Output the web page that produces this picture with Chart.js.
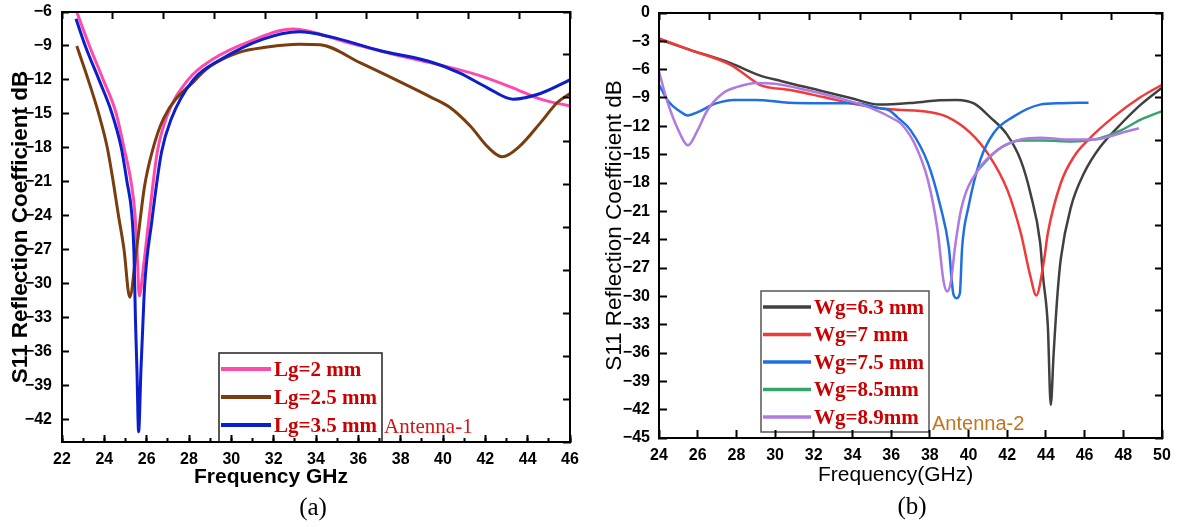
<!DOCTYPE html>
<html>
<head>
<meta charset="utf-8">
<title>S11 reflection coefficient</title>
<script src="https://cdn.jsdelivr.net/npm/chart.js@4.4.1/dist/chart.umd.min.js"></script>
<style>
  html, body { margin: 0; padding: 0; background: #fff; }
  #wrap { position: relative; width: 1179px; height: 527px; overflow: hidden; }
  canvas { position: absolute; top: 0; }
  #chartA { left: 0; }
  #chartB { left: 590px; }
</style>
</head>
<body>
<div id="wrap">
  <canvas id="chartA" width="590" height="527"></canvas>
  <canvas id="chartB" width="589" height="527"></canvas>
</div>
<script>
// ---- Antenna-1: ground length sweep (GHz / dB) ----
const labelsA = ['Lg=2 mm', 'Lg=2.5 mm', 'Lg=3.5 mm'];

const freqLg2 = [22.7, 23.3, 23.95, 24.55, 24.93, 25.26, 25.45, 25.55, 25.65, 25.85, 26.1, 26.5, 26.96, 27.95, 29.1, 31.0, 32.9, 35.5, 37.8, 39.9, 41.7, 43.3, 44.6, 46];
const s11Lg2 = [-6.0, -9.0, -12.0, -14.9, -18.0, -21.0, -23.9, -27.3, -31.1, -28.5, -24.4, -18.4, -15.2, -12.0, -10.2, -8.5, -7.5, -8.7, -9.8, -10.7, -11.6, -12.7, -13.7, -14.3];

const freqLg25 = [22.7, 23.24, 23.72, 24.14, 24.42, 24.66, 24.93, 25.2, 25.5, 25.9, 26.25, 26.8, 28.3, 29.0, 30.3, 31.7, 33.2, 34.2, 36.1, 38.0, 39.4, 40.3, 41.3, 42.1, 42.8, 43.6, 44.6, 45.4, 46];
const s11Lg25 = [-9.0, -12.0, -14.9, -18.0, -21.0, -23.9, -27.0, -31.2, -27.3, -21.4, -18.4, -15.4, -12.0, -10.8, -9.6, -9.1, -8.85, -8.9, -10.5, -12.2, -13.5, -14.4, -16.1, -17.9, -18.8, -17.9, -15.8, -14.0, -13.2];

const freqLg35 = [22.66, 23.1, 23.75, 24.35, 24.8, 25.07, 25.3, 25.4, 25.47, 25.54, 25.62, 25.73, 25.83, 25.9, 26.25, 26.7, 27.15, 28.2, 29.5, 31.5, 33.2, 34.7, 37.0, 39.4, 40.8, 42.1, 43.3, 44.6, 46];
const s11Lg35 = [-6.6, -9.0, -12.0, -14.9, -18.0, -21.0, -23.9, -27.3, -33.2, -37.6, -43.1, -37.6, -33.2, -30.3, -24.4, -18.4, -15.5, -12.0, -10.2, -8.4, -7.75, -8.2, -9.4, -10.4, -11.4, -12.7, -13.7, -13.2, -12.0];

// ---- Antenna-2: ground width sweep (GHz / dB) ----
const labelsB = ['Wg=6.3 mm', 'Wg=7 mm', 'Wg=7.5 mm', 'Wg=8.5mm', 'Wg=8.9mm'];

const freqWg63 = [24.0, 25.6, 27.7, 29.2, 30.3, 32.3, 33.9, 35.4, 37.2, 38.5, 39.4, 40.3, 41.1, 42.0, 42.7, 43.2, 43.7, 43.85, 44.1, 44.25, 44.4, 44.6, 44.77, 45.3, 45.96, 46.8, 47.9, 48.9, 50.0];
const s11Wg63 = [-2.8, -3.9, -5.3, -6.6, -7.2, -8.2, -9.0, -9.7, -9.5, -9.25, -9.2, -9.6, -11.0, -12.9, -15.6, -19.1, -24.3, -27.9, -33.2, -41.5, -36.0, -29.7, -26.0, -20.5, -17.0, -14.2, -11.7, -9.7, -7.9];

const freqWg7 = [24.0, 25.6, 27.7, 28.7, 29.2, 30.8, 32.5, 34.25, 36.0, 38.0, 38.9, 40.1, 41.1, 42.0, 42.7, 43.2, 43.5, 43.9, 44.1, 44.77, 45.45, 46.2, 47.5, 48.9, 50.0];
const s11Wg7 = [-2.7, -3.9, -5.5, -6.9, -7.6, -8.15, -8.9, -9.7, -10.2, -10.5, -11.0, -12.7, -15.2, -18.7, -23.3, -27.9, -29.9, -26.2, -23.3, -18.0, -15.2, -13.4, -11.0, -8.9, -7.6];

const freqWg75 = [24.0, 24.5, 25.0, 25.5, 26.0, 26.9, 27.9, 29.0, 30.7, 32.4, 34.15, 35.4, 35.9, 36.3, 37.0, 37.9, 38.55, 38.98, 39.21, 39.38, 39.55, 39.67, 40.0, 40.6, 41.3, 42.3, 43.7, 44.8, 46.2];
const s11Wg75 = [-7.6, -9.4, -10.3, -10.85, -10.5, -9.6, -9.2, -9.2, -9.5, -9.55, -9.55, -10.1, -10.3, -11.0, -12.4, -15.9, -20.5, -24.8, -29.7, -30.2, -29.7, -24.8, -20.5, -15.6, -12.7, -11.0, -9.7, -9.55, -9.5];

const freqWg85 = [40.5, 41.5, 42.7, 43.9, 45.3, 46.7, 47.9, 48.9, 50.0];
const s11Wg85 = [-16.6, -14.5, -13.5, -13.5, -13.6, -13.3, -12.4, -11.3, -10.4];

const freqWg89 = [24.0, 24.45, 25.0, 25.5, 26.0, 26.5, 27.3, 28.1, 29.0, 30.0, 31.6, 33.3, 35.0, 36.2, 36.5, 37.2, 37.9, 38.4, 38.7, 38.9, 39.1, 39.3, 39.65, 40.5, 41.5, 42.7, 43.7, 45.1, 46.5, 47.9, 48.8];
const s11Wg89 = [-6.2, -9.5, -12.4, -14.0, -12.4, -10.3, -8.5, -7.8, -7.4, -7.5, -8.15, -9.0, -10.1, -11.3, -11.7, -13.8, -17.7, -23.0, -28.3, -29.5, -28.3, -24.8, -20.5, -16.6, -14.5, -13.4, -13.2, -13.4, -13.4, -12.7, -12.2];

// axis ranges
const xRangeA = [22, 46];
const yRangeA = [-44, -6];
const xRangeB = [24, 50];
const yRangeB = [-45, 0];

const SANS = '"Liberation Sans", Arial, sans-serif';
const SERIF = '"Liberation Serif", "Times New Roman", serif';

function minusLabel(v) {
  return v < 0 ? '\u2212' + Math.abs(v) : String(v);
}

function series(label, xs, ys, color, width, order) {
  return {
    label,
    data: xs.map((x, i) => ({ x, y: ys[i] })),
    borderColor: color,
    borderWidth: width,
    pointRadius: 0,
    fill: false,
    cubicInterpolationMode: 'monotone',
    order
  };
}

// pin a scale's box size and drop the label overhang padding
function fixSize(size) {
  return function (scale) {
    if (scale.isHorizontal()) scale.height = size; else scale.width = size;
    scale.paddingTop = 0;
    scale.paddingBottom = 0;
    scale.paddingLeft = 0;
    scale.paddingRight = 0;
  };
}

// unlabelled mirror axis along the top / right edge, 10 equal divisions
function frameAxis(position, size, tickLen) {
  return {
    type: 'linear', position, min: 0, max: 10,
    ticks: { display: false, stepSize: 1 },
    grid: { drawOnChartArea: false, tickLength: -tickLen, tickWidth: 2, tickColor: '#000', z: 1 },
    border: { display: true, color: '#000', width: 2, z: 1 },
    afterFit: fixSize(size)
  };
}

// legend box + free text labels drawn on the canvas
const panelExtras = {
  id: 'panelExtras',
  afterDatasetsDraw(chart, args, opts) {
    const ctx = chart.ctx;
    const key = opts.key;
    ctx.save();
    if (key) {
      ctx.fillStyle = '#fff';
      ctx.fillRect(key.left, key.top, key.width, key.height);
      ctx.strokeStyle = key.borderColor;
      ctx.lineWidth = key.borderWidth;
      ctx.strokeRect(key.left, key.top, key.width, key.height);
      ctx.font = key.font;
      ctx.textAlign = 'left';
      ctx.textBaseline = 'alphabetic';
      chart.data.datasets.forEach((ds, i) => {
        const y = key.firstRow + i * key.rowGap;
        ctx.strokeStyle = ds.borderColor;
        ctx.lineWidth = key.lineWidth;
        ctx.beginPath();
        ctx.moveTo(key.lineStart, y);
        ctx.lineTo(key.lineEnd, y);
        ctx.stroke();
        ctx.fillStyle = key.textColor;
        ctx.fillText(ds.label, key.textX, y + key.baseline);
      });
    }
    (opts.notes || []).forEach(n => {
      ctx.font = n.font;
      ctx.fillStyle = n.color;
      ctx.textAlign = n.align || 'left';
      ctx.textBaseline = 'alphabetic';
      ctx.fillText(n.text, n.x, n.y);
    });
    ctx.restore();
  }
};

// ---------- panel (a) ----------
new Chart(document.getElementById('chartA'), {
  type: 'line',
  data: {
    datasets: [
      series(labelsA[0], freqLg2, s11Lg2, '#ff4aab', 3, 3),
      series(labelsA[1], freqLg25, s11Lg25, '#7a3d10', 3, 2),
      series(labelsA[2], freqLg35, s11Lg35, '#0a1ecb', 3, 1)
    ]
  },
  options: {
    responsive: false,
    animation: false,
    devicePixelRatio: 1,
    layout: { padding: 0 },
    scales: {
      x: {
        type: 'linear', position: 'bottom', min: xRangeA[0], max: xRangeA[1],
        ticks: { stepSize: 2, padding: 14.5, color: '#000', maxRotation: 0, autoSkip: false,
                 font: { family: SANS, size: 16, weight: 'bold' } },
        grid: { drawOnChartArea: false, tickLength: -7, tickWidth: 2, tickColor: '#000', z: 1 },
        border: { color: '#000', width: 2, z: 1 },
        afterFit: fixSize(85)
      },
      xMinor: {
        type: 'linear', position: 'bottom', weight: -1, min: xRangeA[0], max: xRangeA[1],
        ticks: { display: false, stepSize: 1 },
        grid: { drawOnChartArea: false, tickLength: -4, tickWidth: 2, tickColor: '#000', z: 1 },
        border: { display: false },
        afterFit: fixSize(0)
      },
      x2: frameAxis('top', 12, 7),
      y: {
        type: 'linear', position: 'left', min: yRangeA[0], max: yRangeA[1],
        ticks: { stepSize: 3, includeBounds: false, padding: 17, color: '#000', autoSkip: false,
                 font: { family: SANS, size: 16, weight: 'bold' }, callback: v => minusLabel(v) },
        grid: { drawOnChartArea: false, tickLength: -7, tickWidth: 2, tickColor: '#000', z: 1 },
        border: { color: '#000', width: 2, z: 1 },
        title: { display: true, text: 'S11 Reflection Coefficient dB', color: '#000',
                 font: { family: SANS, size: 22.5, weight: 'bold' }, padding: { top: 7, bottom: 0 } },
        afterFit: fixSize(62)
      },
      y2: frameAxis('right', 20, 7)
    },
    plugins: {
      legend: { display: false },
      tooltip: { enabled: false },
      panelExtras: {
        key: {
          left: 219, top: 353, width: 163, height: 89,
          firstRow: 369, rowGap: 28, lineStart: 221, lineEnd: 271, lineWidth: 4,
          textX: 274, baseline: 7, font: `bold 21px ${SERIF}`, textColor: '#cc0000',
          borderColor: '#222', borderWidth: 1.5
        },
        notes: [
          { text: 'Frequency GHz', x: 194, y: 483, font: `bold 21px ${SANS}`, color: '#000' },
          { text: 'Antenna-1', x: 384, y: 433, font: `21px ${SERIF}`, color: '#d41515' },
          { text: '(a)', x: 313, y: 515, font: `25px ${SERIF}`, color: '#000', align: 'center' }
        ]
      }
    }
  },
  plugins: [panelExtras]
});

// ---------- panel (b) ----------
new Chart(document.getElementById('chartB'), {
  type: 'line',
  data: {
    datasets: [
      series(labelsB[0], freqWg63, s11Wg63, '#404040', 2.5, 5),
      series(labelsB[1], freqWg7, s11Wg7, '#f03a3a', 2.5, 4),
      series(labelsB[2], freqWg75, s11Wg75, '#1f6fe0', 2.5, 3),
      series(labelsB[3], freqWg85, s11Wg85, '#35a46a', 2.5, 2),
      series(labelsB[4], freqWg89, s11Wg89, '#b07ae0', 2.5, 1)
    ]
  },
  options: {
    responsive: false,
    animation: false,
    devicePixelRatio: 1,
    layout: { padding: 0 },
    scales: {
      x: {
        type: 'linear', position: 'bottom', min: xRangeB[0], max: xRangeB[1],
        ticks: { stepSize: 2, padding: 16.4, color: '#000', maxRotation: 0, autoSkip: false,
                 font: { family: SANS, size: 16, weight: 'bold' } },
        grid: { drawOnChartArea: false, tickLength: -8, tickWidth: 2, tickColor: '#000', z: 1 },
        border: { color: '#000', width: 2, z: 1 },
        afterFit: fixSize(89)
      },
      x2: frameAxis('top', 13, 7),
      y: {
        type: 'linear', position: 'left', min: yRangeB[0], max: yRangeB[1],
        ticks: { stepSize: 3, padding: 17, color: '#000', autoSkip: false,
                 font: { family: SANS, size: 16, weight: 'bold' }, callback: v => minusLabel(v) },
        grid: { drawOnChartArea: false, tickLength: -8, tickWidth: 2, tickColor: '#000', z: 1 },
        border: { color: '#000', width: 2, z: 1 },
        title: { display: true, text: 'S11 Reflection Coefficient dB', color: '#000',
                 font: { family: SANS, size: 22.5 }, padding: { top: 11, bottom: 0 } },
        afterFit: fixSize(69)
      },
      y2: frameAxis('right', 17, 7)
    },
    plugins: {
      legend: { display: false },
      tooltip: { enabled: false },
      panelExtras: {
        key: {
          left: 171, top: 291, width: 168, height: 141,
          firstRow: 307, rowGap: 27.5, lineStart: 173, lineEnd: 221, lineWidth: 3.5,
          textX: 224, baseline: 6.5, font: `bold 21px ${SERIF}`, textColor: '#cc0000',
          borderColor: '#555', borderWidth: 1.5
        },
        notes: [
          { text: 'Frequency(GHz)', x: 228, y: 481, font: `21px ${SANS}`, color: '#000' },
          { text: 'Antenna-2', x: 342, y: 430, font: `20px ${SANS}`, color: '#c4731f' },
          { text: '(b)', x: 322, y: 514, font: `25px ${SERIF}`, color: '#000', align: 'center' }
        ]
      }
    }
  },
  plugins: [panelExtras]
});
</script>
</body>
</html>
